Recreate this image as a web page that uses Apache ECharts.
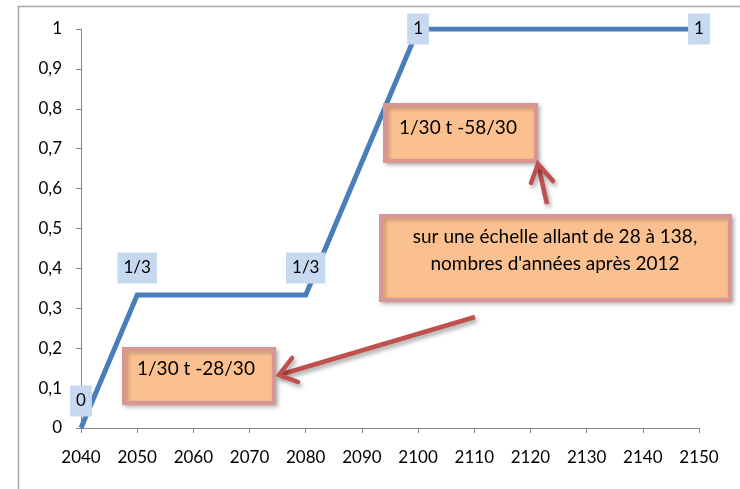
<!DOCTYPE html>
<html>
<head>
<meta charset="utf-8">
<script src="https://cdn.jsdelivr.net/npm/echarts@6/dist/echarts.min.js"></script>
<style>
  html, body { margin: 0; padding: 0; background: #fff; }
  #chart { width: 740px; height: 489px; }
</style>
</head>
<body>
<div id="chart"></div>
<script>
// Piecewise-linear weight over time
const years = [2040, 2050, 2080, 2100, 2150];
const weights = [0, 1 / 3, 1 / 3, 1, 1];
const pointLabels = ['0', '1/3', '1/3', '1', '1'];

const FONT = 'Lato, "Noto Sans", sans-serif';
const boxFill = '#fac090';
const boxEdge = '#d99694';
const arrowRed = '#c0504d';

const seriesData = years.map((x, i) => {
  const item = { value: [x, weights[i]], name: pointLabels[i] };
  if (weights[i] >= 1) {
    item.label = { position: 'inside', offset: [0, -7] };
  }
  return item;
});

function box(x, y, w, h) {
  return {
    type: 'rect',
    shape: { x: x, y: y, width: w, height: h },
    style: {
      fill: boxFill, stroke: boxEdge, lineWidth: 4,
      shadowColor: 'rgba(0,0,0,0.25)', shadowBlur: 4, shadowOffsetX: 2, shadowOffsetY: 2
    },
    z: 10
  };
}

function label(x, y, text, align) {
  return {
    type: 'text',
    x: x, y: y,
    style: {
      text: text, fill: '#000', font: '19px ' + FONT,
      align: align || 'left', verticalAlign: 'middle', lineHeight: 27
    },
    z: 11
  };
}

const arrowStyle = {
  stroke: arrowRed, lineWidth: 4.5, fill: null,
  shadowColor: 'rgba(0,0,0,0.35)', shadowBlur: 4, shadowOffsetX: 2, shadowOffsetY: 3
};

function arrow(tail, tip, armA, armB) {
  return [
    { type: 'polyline', shape: { points: [tail, tip] }, style: Object.assign({ lineCap: 'butt' }, arrowStyle), z: 12 },
    { type: 'polyline', shape: { points: [armA, tip, armB] }, style: Object.assign({ lineJoin: 'miter', lineCap: 'round' }, arrowStyle), z: 12 }
  ];
}

const chart = echarts.init(document.getElementById('chart'));
chart.setOption({
  animation: false,
  backgroundColor: '#fff',
  grid: { left: 81, top: 29, right: 41, bottom: 61 },
  xAxis: {
    type: 'value', min: 2040, max: 2150, interval: 10,
    axisLine: { show: true, lineStyle: { color: '#868686', width: 1 } },
    axisTick: { show: true, length: 5, lineStyle: { color: '#868686' } },
    splitLine: { show: false },
    axisLabel: { color: '#000', fontSize: 17, fontFamily: FONT, margin: 21, formatter: v => String(v) }
  },
  yAxis: {
    type: 'value', min: 0, max: 1, interval: 0.1,
    axisLine: { show: true, lineStyle: { color: '#868686', width: 1 } },
    axisTick: { show: true, length: 5, lineStyle: { color: '#868686' } },
    splitLine: { show: false },
    axisLabel: { color: '#000', fontSize: 17, fontFamily: FONT, margin: 19,
      formatter: v => String(Math.round(v * 10) / 10).replace('.', ',') }
  },
  series: [{
    type: 'line',
    data: seriesData,
    symbol: 'circle',
    symbolSize: 1,
    showSymbol: true,
    itemStyle: { color: 'rgba(0,0,0,0)', borderWidth: 0 },
    clip: true,
    lineStyle: { color: '#4a7ebb', width: 5, join: 'miter' },
    label: {
      show: true, position: 'top', distance: 11,
      formatter: p => p.name,
      backgroundColor: '#c6d9f1', padding: [7, 6], lineHeight: 17,
      color: '#000', fontSize: 17, fontFamily: FONT
    },
    labelLayout: { hideOverlap: false },
    z: 3
  }],
  graphic: [
    // outer chart frame
    { type: 'rect', shape: { x: 18.5, y: 6.5, width: 760, height: 520 },
      style: { fill: null, stroke: '#a6a6a6', lineWidth: 1.5 }, z: 0 },
    box(124, 349, 150, 54),
    label(137, 369, '1/30 t -28/30'),
    box(385, 105, 151, 56),
    label(399, 128, '1/30 t -58/30'),
    box(381, 216, 349, 84),
    label(555, 237, 'sur une échelle allant de 28 à 138,', 'center'),
    label(555, 264, "nombres d'années après 2012", 'center'),
    ...arrow([475, 317], [279, 375], [292, 358], [298, 382]),
    ...arrow([547, 204], [538, 164], [531, 183], [553, 181])
  ]
});
</script>
</body>
</html>
